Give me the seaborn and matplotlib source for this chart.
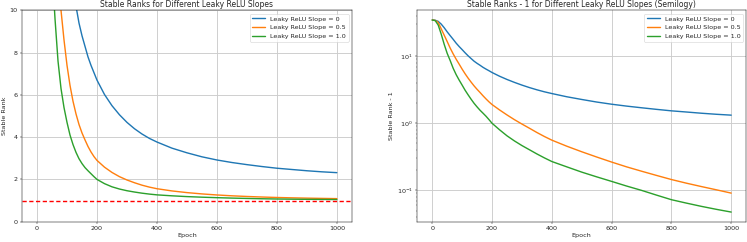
import numpy as np
import matplotlib
matplotlib.use("Agg")
import matplotlib.pyplot as plt
import seaborn as sns

epochs = [0, 10, 20, 30, 40, 50, 60, 70, 80, 90, 100, 110, 120, 130, 140, 150,
          160, 170, 180, 190, 200, 225, 250, 275, 300, 325, 350, 375, 400, 450,
          500, 550, 600, 650, 700, 750, 800, 850, 900, 950, 1000]

# stable rank - 1
slope_0 = [34.5, 34.2, 32.9, 30.0, 26.5, 23.0, 20.2, 17.8, 15.6, 13.9, 12.5, 11.2,
           10.1, 9.2, 8.4, 7.8, 7.3, 6.8, 6.4, 6.05, 5.7, 5.02, 4.49, 4.06, 3.7,
           3.4, 3.15, 2.94, 2.77, 2.48, 2.26, 2.07, 1.92, 1.8, 1.7, 1.61, 1.53,
           1.47, 1.41, 1.36, 1.32]
slope_05 = [34.5, 34.0, 31.8, 25.5, 20.5, 16.5, 13.2, 10.8, 9.0, 7.6, 6.4, 5.45,
            4.7, 4.1, 3.6, 3.2, 2.87, 2.56, 2.3, 2.08, 1.9, 1.58, 1.33, 1.13,
            0.973, 0.843, 0.728, 0.635, 0.56, 0.455, 0.376, 0.314, 0.264,
            0.224, 0.193, 0.167, 0.145, 0.128, 0.114, 0.102, 0.091]
slope_10 = [34.5, 33.8, 29.0, 21.3, 15.0, 11.0, 8.6, 6.6, 5.3, 4.4, 3.7, 3.1,
            2.65, 2.28, 1.98, 1.75, 1.56, 1.41, 1.27, 1.13, 1.0, 0.8, 0.65,
            0.545, 0.465, 0.403, 0.349, 0.305, 0.269, 0.224, 0.187, 0.159,
            0.136, 0.116, 0.1, 0.085, 0.0726, 0.0646, 0.0578, 0.0522, 0.0475]

labels = ["Leaky ReLU Slope = 0", "Leaky ReLU Slope = 0.5", "Leaky ReLU Slope = 1.0"]
series = [slope_0, slope_05, slope_10]
colors = sns.color_palette("tab10", 3)

sns.set_style("ticks", {"axes.grid": True, "grid.color": ".8"})
plt.rcParams.update({"xtick.labelsize": 10.5, "ytick.labelsize": 10.5,
                     "axes.labelsize": 10.5, "axes.titlesize": 12.5,
                     "legend.fontsize": 10.5})

dpi = 44
fig = plt.figure(figsize=(747 / dpi, 242 / dpi), dpi=dpi)
ax1 = fig.add_axes([0.0295, 0.084, 0.4415, 0.873])
ax2 = fig.add_axes([0.5586, 0.084, 0.4403, 0.873])

for vals, lab, col in zip(series, labels, colors):
    sr = np.array(vals) + 1
    sns.lineplot(x=epochs, y=sr, ax=ax1, color=col, label=lab, linewidth=2.3)
    sns.lineplot(x=epochs, y=vals, ax=ax2, color=col, label=lab, linewidth=2.3)

ax1.axhline(1, color="#ff0000", linestyle="--", linewidth=2.3, dashes=(3, 1.8))
ax1.set_ylim(0, 10)
ax1.set_xlabel("Epoch")
ax1.set_ylabel("Stable Rank")
ax1.set_title("Stable Ranks for Different Leaky ReLU Slopes")
ax1.legend(loc="upper right")

ax2.set_yscale("log")
ax2.set_xlabel("Epoch")
ax2.set_ylabel("Stable Rank - 1")
ax2.set_title("Stable Ranks - 1 for Different Leaky ReLU Slopes (Semilogy)")
ax2.legend(loc="upper right")

for ax in (ax1, ax2):
    ax.grid(True, linewidth=1.5)
    for s in ax.spines.values():
        s.set_color("black")

fig.savefig("out.png", dpi=dpi)
